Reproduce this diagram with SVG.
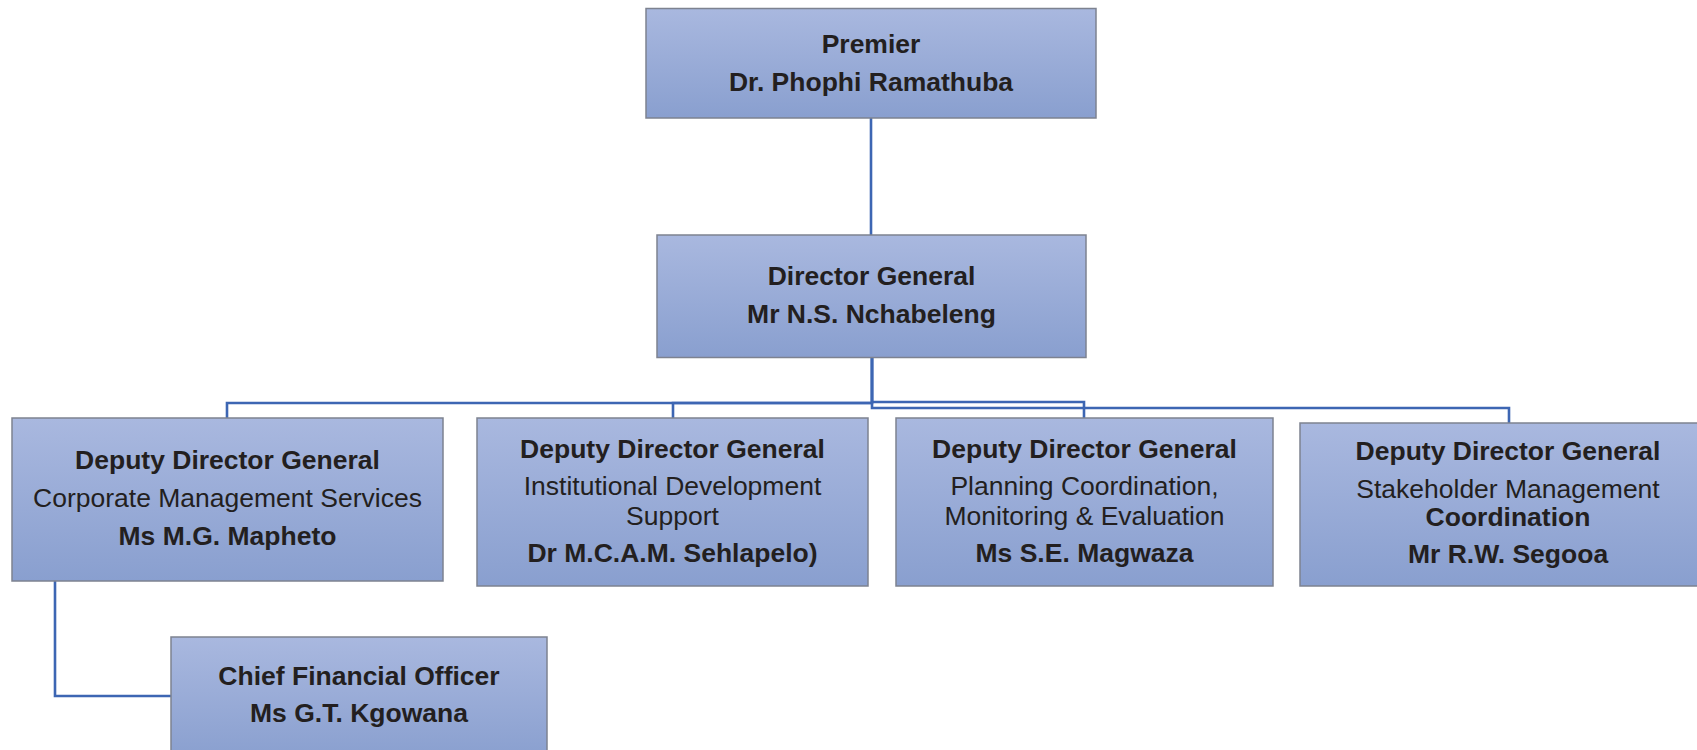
<svg xmlns="http://www.w3.org/2000/svg" width="1697" height="750" viewBox="0 0 1697 750">
  <defs>
    <linearGradient id="boxFill" x1="0" y1="0" x2="0" y2="1">
      <stop offset="0" stop-color="#a9b8df"/>
      <stop offset="1" stop-color="#899fcf"/>
    </linearGradient>
    <style>
      .box { fill: url(#boxFill); stroke: #7d8290; stroke-width: 1.5; }
      .conn { fill: none; stroke: #3d66b3; stroke-width: 2.6; }
      text { font-family: "Liberation Sans", Arial, sans-serif; font-size: 26.5px; fill: #231f20; text-anchor: middle; }
      .b { font-weight: bold; }
    </style>
  </defs>
  <rect width="1697" height="750" fill="#ffffff"/>

  <g id="connectors">
    <path class="conn" d="M871 118 V235"/>
    <path class="conn" d="M872 357 V403 H227 V418"/>
    <path class="conn" d="M872 403 H673 V418"/>
    <path class="conn" d="M872 357 V402 H1084 V418"/>
    <path class="conn" d="M872 357 V408 H1509 V423"/>
    <path class="conn" d="M55 581 V696 H171"/>
  </g>

  <g id="premier">
    <rect class="box" x="646" y="8.5" width="450" height="109.5"/>
    <text class="b" x="871" y="53">Premier</text>
    <text class="b" x="871" y="91">Dr. Phophi Ramathuba</text>
  </g>

  <g id="director-general">
    <rect class="box" x="657" y="235" width="429" height="122.5"/>
    <text class="b" x="871.5" y="285">Director General</text>
    <text class="b" x="871.5" y="323">Mr N.S. Nchabeleng</text>
  </g>

  <g id="ddg-corporate">
    <rect class="box" x="12" y="418" width="431" height="163"/>
    <text class="b" x="227.5" y="469">Deputy Director General</text>
    <text x="227.5" y="507">Corporate Management Services</text>
    <text class="b" x="227.5" y="545">Ms M.G. Mapheto</text>
  </g>

  <g id="ddg-institutional">
    <rect class="box" x="477" y="418" width="391" height="168"/>
    <text class="b" x="672.5" y="458">Deputy Director General</text>
    <text x="672.5" y="495">Institutional Development</text>
    <text x="672.5" y="525">Support</text>
    <text class="b" x="672.5" y="562">Dr M.C.A.M. Sehlapelo)</text>
  </g>

  <g id="ddg-planning">
    <rect class="box" x="896" y="418" width="377" height="168"/>
    <text class="b" x="1084.5" y="458">Deputy Director General</text>
    <text x="1084.5" y="495">Planning Coordination,</text>
    <text x="1084.5" y="525">Monitoring &amp; Evaluation</text>
    <text class="b" x="1084.5" y="562">Ms S.E. Magwaza</text>
  </g>

  <g id="ddg-stakeholder">
    <rect class="box" x="1300" y="423" width="416" height="163"/>
    <text class="b" x="1508" y="460">Deputy Director General</text>
    <text x="1508" y="498">Stakeholder Management</text>
    <text class="b" x="1508" y="526">Coordination</text>
    <text class="b" x="1508" y="563">Mr R.W. Segooa</text>
  </g>

  <g id="cfo">
    <rect class="box" x="171" y="637" width="376" height="123"/>
    <text class="b" x="359" y="685">Chief Financial Officer</text>
    <text class="b" x="359" y="722">Ms G.T. Kgowana</text>
  </g>
</svg>
